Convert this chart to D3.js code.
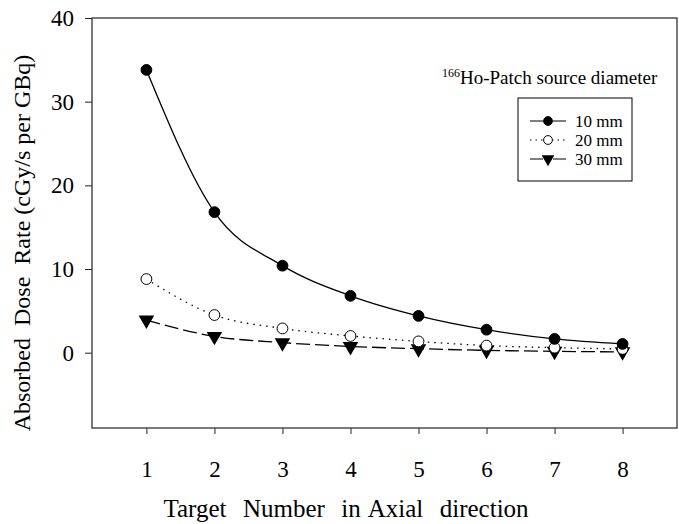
<!DOCTYPE html>
<html>
<head>
<meta charset="utf-8">
<script src="https://cdn.jsdelivr.net/npm/d3@7"></script>
<style>
  body { margin: 0; background: #fff; }
  text { font-family: "Liberation Serif", "Times New Roman", serif; fill: #000; white-space: pre; }
</style>
</head>
<body>
<div class="chart"></div>
<script>
// data
var targets = [1, 2, 3, 4, 5, 6, 7, 8];
var dose10 = [33.8, 16.8, 10.4, 6.8, 4.4, 2.75, 1.65, 1.05];
var dose20 = [8.8, 4.5, 2.9, 2.0, 1.35, 0.85, 0.6, 0.45];
var dose30 = [3.9, 1.95, 1.2, 0.75, 0.48, 0.28, 0.16, 0.1];
var yTicks = [0, 10, 20, 30, 40];
var seriesNames = ["10 mm", "20 mm", "30 mm"];

var svgWidth = 679, svgHeight = 524;
var margin = { top: 18, bottom: 96, left: 92, right: 2 };
var width = svgWidth - margin.left - margin.right;
var height = svgHeight - margin.top - margin.bottom;

var svg = d3.select(".chart").append("svg")
  .attr("width", svgWidth)
  .attr("height", svgHeight);

var chartGroup = svg.append("g")
  .attr("transform", `translate(${margin.left}, ${margin.top})`);

var xScale = d3.scaleLinear().domain([0.2, 8.8]).range([0, width]);
var yScale = d3.scaleLinear().domain([-9, 40]).range([height, 0]);

// axes
var xAxis = chartGroup.append("g")
  .attr("transform", `translate(0, ${height})`)
  .call(d3.axisBottom(xScale).tickValues(targets).tickFormat(d3.format("d")).tickSize(6).tickPadding(27));
var yAxis = chartGroup.append("g")
  .call(d3.axisLeft(yScale).tickValues(yTicks).tickSize(7).tickPadding(11));

[xAxis, yAxis].forEach(function (ax) {
  ax.select(".domain").remove();
  ax.selectAll("text").attr("font-size", "23px").attr("font-family", "Liberation Serif").attr("fill", "#000");
  ax.selectAll("line").attr("stroke", "#222");
});

// frame
chartGroup.append("rect")
  .attr("x", 0).attr("y", 0)
  .attr("width", width).attr("height", height)
  .attr("fill", "none")
  .attr("stroke", "#333")
  .attr("stroke-width", 1.3);

// lines
var series = [
  { name: seriesNames[0], values: dose10, dash: null, symbol: "filled" },
  { name: seriesNames[1], values: dose20, dash: "1.5,5", symbol: "open" },
  { name: seriesNames[2], values: dose30, dash: "14,5", symbol: "triangle" }
];

var line = d3.line()
  .x(d => xScale(d.x))
  .y(d => yScale(d.y))
  .curve(d3.curveMonotoneX);

series.forEach(function (s) {
  var pts = targets.map((t, i) => ({ x: t, y: s.values[i] }));
  chartGroup.append("path")
    .datum(pts)
    .attr("d", line)
    .attr("fill", "none")
    .attr("stroke", "#000")
    .attr("stroke-width", 1.3)
    .attr("stroke-dasharray", s.dash);
});

function drawSymbol(g, type, cx, cy, r) {
  if (type == "triangle") {
    g.append("path")
      .attr("d", d3.symbol().type(d3.symbolTriangle).size(r * r * 3.6)())
      .attr("transform", `translate(${cx}, ${cy}) rotate(180)`)
      .attr("fill", "#000");
  } else {
    g.append("circle")
      .attr("cx", cx).attr("cy", cy).attr("r", r)
      .attr("fill", type == "filled" ? "#000" : "#fff")
      .attr("stroke", "#000")
      .attr("stroke-width", 1);
  }
}

// markers, drawn last series first so 10 mm sits on top
series.slice().reverse().forEach(function (s) {
  s.values.forEach(function (v, i) {
    drawSymbol(chartGroup, s.symbol, xScale(targets[i]), yScale(v), 5.4);
  });
});

// axis titles
svg.append("text")
  .attr("x", 346)
  .attr("y", 517)
  .attr("text-anchor", "middle")
  .attr("font-size", "25px")
  .attr("word-spacing", "2px")
  .text("Target  Number  in Axial  direction");

svg.append("text")
  .attr("transform", "rotate(-90)")
  .attr("x", -243)
  .attr("y", 30)
  .attr("text-anchor", "middle")
  .attr("font-size", "24px")
  .text("Absorbed  Dose  Rate (cGy/s per GBq)");

// legend
var legendTitle = svg.append("text")
  .attr("x", 442)
  .attr("y", 84)
  .attr("font-size", "19px");
legendTitle.append("tspan").attr("font-size", "12px").attr("dy", "-7").text("166");
legendTitle.append("tspan").attr("dy", "7").text("Ho-Patch source diameter");

var legend = svg.append("g");
legend.append("rect")
  .attr("x", 518).attr("y", 98)
  .attr("width", 114).attr("height", 83)
  .attr("fill", "#fff")
  .attr("stroke", "#000")
  .attr("stroke-width", 1);

series.forEach(function (s, i) {
  var cy = 121 + i * 19;
  legend.append("line")
    .attr("x1", 530).attr("x2", 566)
    .attr("y1", cy).attr("y2", cy)
    .attr("stroke", "#000")
    .attr("stroke-width", 1.2)
    .attr("stroke-dasharray", s.symbol == "open" ? "1.5,4" : null);
  legend.append("rect")
    .attr("x", 543).attr("y", cy - 5).attr("width", 10).attr("height", 10)
    .attr("fill", "#fff");
  drawSymbol(legend, s.symbol, 548, cy, 4.4);
  legend.append("text")
    .attr("x", 575)
    .attr("y", cy + 6)
    .attr("font-size", "17px")
    .text(s.name);
});
</script>
</body>
</html>
